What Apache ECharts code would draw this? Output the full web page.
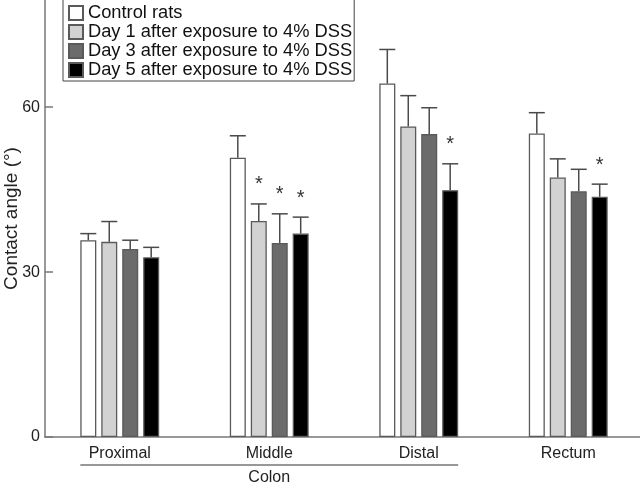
<!DOCTYPE html>
<html>
<head>
<meta charset="utf-8">
<script src="https://cdn.jsdelivr.net/npm/echarts@6/dist/echarts.min.js"></script>
<style>html,body{margin:0;padding:0;background:#fff}#c{width:640px;height:484px}</style>
</head>
<body>
<div id="c"></div>
<script>
const categories = ['Proximal', 'Middle', 'Distal', 'Rectum'];
const seriesNames = ['Control rats', 'Day 1 after exposure to 4% DSS', 'Day 3 after exposure to 4% DSS', 'Day 5 after exposure to 4% DSS'];
const controlMean = [35.8, 50.8, 64.3, 55.2];
const controlErr  = [1.2, 4.0, 6.2, 3.8];
const day1Mean = [35.5, 39.3, 56.5, 47.2];
const day1Err  = [3.7, 3.1, 5.6, 3.4];
const day3Mean = [34.2, 35.3, 55.1, 44.7];
const day3Err  = [1.6, 5.3, 4.8, 4.0];
const day5Mean = [32.7, 37.0, 44.9, 43.7];
const day5Err  = [1.8, 3.0, 4.8, 2.3];
const day1Sig = [0, 1, 0, 0];
const day3Sig = [0, 1, 0, 0];
const day5Sig = [0, 1, 1, 1];
const controlSig = [0, 0, 0, 0];
const yTicks = [0, 30, 60];
const groupLabel = 'Colon';

const means = [controlMean, day1Mean, day3Mean, day5Mean];
const errs = [controlErr, day1Err, day3Err, day5Err];
const sigs = [controlSig, day1Sig, day3Sig, day5Sig];
const colors = ['#ffffff', '#d2d2d2', '#6b6b6b', '#000000'];

const BAR_W = 16, BAR_GAP = '31%';
const FONT = 'Liberation Sans, Arial, sans-serif';

const chart = echarts.init(document.getElementById('c'), null, {renderer: 'canvas'});

const series = [];
means.forEach((m, k) => {
  series.push({
    name: seriesNames[k], type: 'bar', data: m,
    barWidth: BAR_W, barGap: BAR_GAP,
    itemStyle: {color: colors[k], borderColor: '#5a5a5a', borderWidth: 1.3},
    z: 2
  });
});
means.forEach((m, k) => {
  series.push({
    type: 'custom', name: seriesNames[k] + ' err',
    data: m.map((v, i) => [i, v, v + errs[k][i], sigs[k][i]]),
    z: 3, silent: true,
    renderItem: function (params, api) {
      const ci = api.value(0);
      const layout = api.barLayout({barWidth: BAR_W, barGap: BAR_GAP, count: 4});
      const off = layout[k].offsetCenter;
      const base = api.coord([ci, api.value(1)]);
      const top = api.coord([ci, api.value(2)]);
      const x = base[0] + off;
      const half = BAR_W / 2;
      const children = [
        {type: 'line', shape: {x1: x, y1: base[1], x2: x, y2: top[1]}, style: {stroke: '#4a4a4a', lineWidth: 1.5}},
        {type: 'line', shape: {x1: x - half, y1: top[1], x2: x + half, y2: top[1]}, style: {stroke: '#4a4a4a', lineWidth: 1.5}}
      ];
      if (api.value(3)) {
        children.push({type: 'text', x: x, y: top[1] - 19,
          style: {text: '*', font: '20px ' + FONT, fill: '#333', align: 'center', verticalAlign: 'middle'}});
      }
      return {type: 'group', children: children};
    }
  });
});

const option = {
  backgroundColor: '#fff',
  animation: false,
  grid: {left: 45, right: -3, top: 0, bottom: 47, containLabel: false, outerBoundsMode: 'none'},
  legend: {
    data: seriesNames, orient: 'vertical', left: 63, top: -1,
    padding: [5, 2, 2, 5], itemGap: 1, itemWidth: 14, itemHeight: 14,
    borderColor: '#444', borderWidth: 1, borderRadius: 0,
    icon: 'rect',
    textStyle: {fontFamily: FONT, fontSize: 18.3, lineHeight: 18, color: '#111', padding: [0, 0, 0, 0]},
    selectedMode: false
  },
  xAxis: {
    type: 'category', data: categories,
    axisLine: {lineStyle: {color: '#777', width: 1.5}},
    axisTick: {show: false},
    axisLabel: {fontFamily: FONT, fontSize: 16, color: '#222', margin: 9}
  },
  yAxis: {
    type: 'value', min: 0, max: 79.5, interval: 30,
    name: 'Contact angle (°)', nameLocation: 'middle', nameGap: 24, nameRotate: 90, nameMoveOverlap: false,
    nameTextStyle: {fontFamily: FONT, fontSize: 19, color: '#222'},
    axisLine: {show: true, lineStyle: {color: '#777', width: 1.5}},
    axisTick: {show: true, inside: true, length: 8, lineStyle: {color: '#777', width: 1.5}, customValues: yTicks},
    axisLabel: {fontFamily: FONT, fontSize: 16, color: '#222', margin: 5, customValues: yTicks},
    splitLine: {show: false}
  },
  series: series
};
chart.setOption(option);

// group bracket under the colon categories
const groupHalf = 2 * BAR_W + 1.5 * BAR_W * 0.31;
const p0 = chart.convertToPixel({xAxisIndex: 0, yAxisIndex: 0}, [0, 0]);
const p1 = chart.convertToPixel({xAxisIndex: 0, yAxisIndex: 0}, [1, 0]);
const p2 = chart.convertToPixel({xAxisIndex: 0, yAxisIndex: 0}, [2, 0]);
chart.setOption({
  graphic: [
    {type: 'line', shape: {x1: p0[0] - groupHalf, y1: p0[1] + 28, x2: p2[0] + groupHalf, y2: p0[1] + 28},
      style: {stroke: '#333', lineWidth: 1.2}},
    {type: 'text', x: p1[0], y: p0[1] + 41,
      style: {text: groupLabel, font: '16px ' + FONT, fill: '#222', align: 'center', verticalAlign: 'middle'}}
  ]
});
</script>
</body>
</html>
